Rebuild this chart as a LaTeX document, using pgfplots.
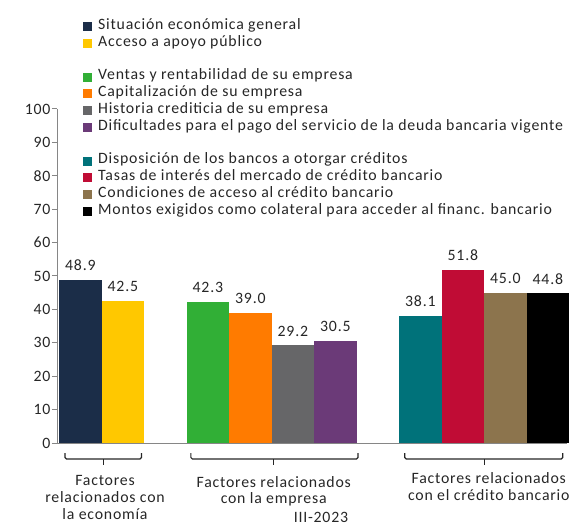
\documentclass[border=0pt]{standalone}
\usepackage{fontspec}
\setmainfont{Carlito}[LetterSpace=5]
\usepackage{pgfplots}
\pgfplotsset{compat=1.18}
\definecolor{cNavy}{RGB}{27,45,72}
\definecolor{cYellow}{RGB}{255,200,0}
\definecolor{cGreen}{RGB}{49,175,54}
\definecolor{cOrange}{RGB}{255,123,0}
\definecolor{cGray}{RGB}{102,102,104}
\definecolor{cPurple}{RGB}{107,58,120}
\definecolor{cTeal}{RGB}{0,114,122}
\definecolor{cRed}{RGB}{192,12,53}
\definecolor{cBrown}{RGB}{140,116,77}
\definecolor{txt}{RGB}{38,38,38}
\definecolor{axgray}{RGB}{134,134,134}
\pgfplotsset{sqlegend/.style={legend image code/.code={\fill[##1] (0bp,-4.5bp) rectangle (9bp,4.5bp);}}}
\newcommand{\ft}{\fontsize{15.8bp}{17bp}\selectfont}
\begin{document}
\begin{tikzpicture}
\path[use as bounding box] (0,0) rectangle (569bp,525bp);
\begin{axis}[
  at={(57bp,82bp)}, anchor=south west,
  scale only axis, width=510bp, height=334bp,
  xmin=-0.55, xmax=11.45, ymin=0, ymax=100,
  ytick={0,10,...,100}, xtick=\empty,
  axis x line*=bottom, axis y line*=left,
  axis line style={draw=axgray, line width=1bp},
  tick align=outside, major tick length=5bp,
  tick style={draw=axgray, line width=1bp},
  /pgf/number format/assume math mode=true,
  ticklabel style={font=\ft, text=txt},
  yticklabel style={xshift=2bp},
  ybar, bar width=1, bar shift=0pt,
  clip=false,
  nodes near coords={\pgfmathprintnumber[fixed,fixed zerofill,precision=1]{\pgfplotspointmeta}},
  every node near coord/.append style={font=\ft, text=txt, inner sep=0pt, yshift=9bp},
  legend style={at={(0.0451,1.2784)}, anchor=north west, draw=none, fill=none,
    font=\ft, text=txt, cells={anchor=west},
    nodes={inner sep=0pt, text height=11bp, text depth=5.8bp},
    row sep=0pt,
    /tikz/every odd column/.append style={column sep=6bp}},
]
\addplot[fill=cNavy, draw=none, sqlegend] coordinates {(0,48.9)};
\addlegendentry{Situación económica general}
\addplot[fill=cYellow, draw=none, sqlegend] coordinates {(1,42.5)};
\addlegendentry{Acceso a apoyo público}
\addlegendimage{empty legend}\addlegendentry{}
\addplot[fill=cGreen, draw=none, sqlegend] coordinates {(3,42.3)};
\addlegendentry{Ventas y rentabilidad de su empresa}
\addplot[fill=cOrange, draw=none, sqlegend] coordinates {(4,39.0)};
\addlegendentry{Capitalización de su empresa}
\addplot[fill=cGray, draw=none, sqlegend] coordinates {(5,29.2)};
\addlegendentry{Historia crediticia de su empresa}
\addplot[fill=cPurple, draw=none, sqlegend] coordinates {(6,30.5)};
\addlegendentry{Dificultades para el pago del servicio de la deuda bancaria vigente}
\addlegendimage{empty legend}\addlegendentry{}
\addplot[fill=cTeal, draw=none, sqlegend] coordinates {(8,38.1)};
\addlegendentry{Disposición de los bancos a otorgar créditos}
\addplot[fill=cRed, draw=none, sqlegend] coordinates {(9,51.8)};
\addlegendentry{Tasas de interés del mercado de crédito bancario}
\addplot[fill=cBrown, draw=none, sqlegend] coordinates {(10,45.0)};
\addlegendentry{Condiciones de acceso al crédito bancario}
\addplot[fill=black, draw=none, sqlegend] coordinates {(11,44.8)};
\addlegendentry{Montos exigidos como colateral para acceder al financ. bancario}
% group brackets
\draw[txt, line width=1.2bp, rounded corners=1.5bp]
  ([yshift=-10bp]axis cs:-0.36,0) -- ([yshift=-16bp]axis cs:-0.36,0)
  -- ([yshift=-16bp]axis cs:1.44,0) -- ([yshift=-10bp]axis cs:1.44,0);
\draw[txt, line width=1.2bp] ([yshift=-16bp]axis cs:0.54,0) -- ([yshift=-22bp]axis cs:0.54,0);
\draw[txt, line width=1.2bp, rounded corners=1.5bp]
  ([yshift=-10bp]axis cs:2.6,0) -- ([yshift=-16bp]axis cs:2.6,0)
  -- ([yshift=-16bp]axis cs:6.53,0) -- ([yshift=-10bp]axis cs:6.53,0);
\draw[txt, line width=1.2bp] ([yshift=-16bp]axis cs:4.55,0) -- ([yshift=-22bp]axis cs:4.55,0);
\draw[txt, line width=1.2bp, rounded corners=1.5bp]
  ([yshift=-10bp]axis cs:7.63,0) -- ([yshift=-16bp]axis cs:7.63,0)
  -- ([yshift=-16bp]axis cs:11.35,0) -- ([yshift=-10bp]axis cs:11.35,0);
\draw[txt, line width=1.2bp] ([yshift=-16bp]axis cs:9.5,0) -- ([yshift=-22bp]axis cs:9.5,0);
\node[font=\ft, text=txt, anchor=base, inner sep=0pt, yshift=-42bp] at (axis cs:0.58,0) {Factores};
\node[font=\ft, text=txt, anchor=base, inner sep=0pt, yshift=-59bp] at (axis cs:0.58,0) {relacionados con};
\node[font=\ft, text=txt, anchor=base, inner sep=0pt, yshift=-76bp] at (axis cs:0.58,0) {la economía};
\node[font=\ft, text=txt, anchor=base, inner sep=0pt, yshift=-44bp] at (axis cs:4.55,0) {Factores relacionados};
\node[font=\ft, text=txt, anchor=base, inner sep=0pt, yshift=-60bp] at (axis cs:4.55,0) {con la empresa};
\node[font=\ft, text=txt, anchor=base, inner sep=0pt, yshift=-40bp] at (axis cs:9.61,0) {Factores relacionados};
\node[font=\ft, text=txt, anchor=base, inner sep=0pt, yshift=-57bp] at (axis cs:9.61,0) {con el crédito bancario};
\node[font=\ft, text=txt, anchor=base, inner sep=0pt, yshift=-79bp] at (axis cs:5.66,0) {III-2023};
\end{axis}
\end{tikzpicture}
\end{document}
